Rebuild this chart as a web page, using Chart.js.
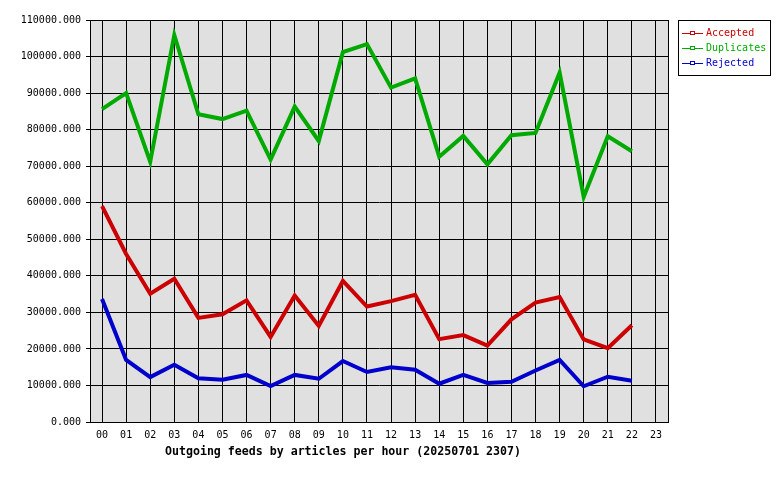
<!DOCTYPE html>
<html>
<head>
<meta charset="utf-8">
<script src="https://cdn.jsdelivr.net/npm/chart.js@4/dist/chart.umd.min.js"></script>
<style>
  html, body { margin: 0; padding: 0; background: #fff; }
  #wrap { width: 780px; height: 480px; }
</style>
</head>
<body>
<div id="wrap"><canvas id="chart" width="780" height="480"></canvas></div>
<script>
// hours 00..23, last hour has no data yet
const hours = ['00','01','02','03','04','05','06','07','08','09','10','11',
               '12','13','14','15','16','17','18','19','20','21','22','23'];

const accepted = [59100, 46000, 35100, 39200, 28500, 29500, 33300, 23300, 34600, 26300, 38600, 31600,
                  33100, 34800, 22700, 23800, 20900, 28100, 32700, 34200, 22600, 20200, 26500, null];
const duplicates = [85600, 90000, 71200, 105900, 84200, 82900, 85200, 71800, 86300, 76900, 101200, 103400,
                    91500, 94000, 72600, 78300, 70500, 78500, 79100, 95600, 61600, 78200, 74100, null];
const rejected = [33700, 17000, 12300, 15700, 12000, 11600, 12900, 9850, 12900, 11850, 16700, 13700,
                  15000, 14300, 10500, 12900, 10700, 11000, 14100, 17000, 9800, 12400, 11300, null];

const seriesNames = ['Accepted', 'Duplicates', 'Rejected'];
const seriesColors = ['#cc0000', '#00aa00', '#0000cc'];

const monoFont = '"DejaVu Sans Mono", "Liberation Mono", monospace';

// Grey plot background plus a full black frame around it.
const plotFramePlugin = {
  id: 'plotFrame',
  beforeDraw: (chart) => {
    const { ctx, chartArea: { left, top, right, bottom } } = chart;
    ctx.save();
    ctx.fillStyle = '#e0e0e0';
    ctx.fillRect(left, top, right - left, bottom - top);
    ctx.restore();
  },
  afterDraw: (chart) => {
    const { ctx, chartArea: { left, top, right, bottom } } = chart;
    ctx.save();
    ctx.strokeStyle = '#000';
    ctx.lineWidth = 1;
    ctx.strokeRect(Math.round(left) + 0.5, Math.round(top) + 0.5,
                   Math.round(right - left), Math.round(bottom - top));
    ctx.restore();
  }
};

// Boxed legend to the right of the plot, text in the series colour.
const boxLegendPlugin = {
  id: 'boxLegend',
  afterDraw: (chart) => {
    const { ctx, chartArea } = chart;
    const x = Math.round(chartArea.right) + 10;
    const y = Math.round(chartArea.top);
    const w = 92, rowH = 15;
    const sets = chart.data.datasets;
    const h = sets.length * rowH + 10;
    ctx.save();
    ctx.fillStyle = '#fff';
    ctx.fillRect(x, y, w, h);
    ctx.strokeStyle = '#000';
    ctx.lineWidth = 1;
    ctx.strokeRect(x + 0.5, y + 0.5, w, h);
    ctx.font = `10px ${monoFont}`;
    ctx.textBaseline = 'middle';
    ctx.textAlign = 'left';
    sets.forEach((ds, i) => {
      const cy = y + 13 + i * rowH + 0.5;
      ctx.strokeStyle = ds.borderColor;
      ctx.beginPath();
      ctx.moveTo(x + 4, cy);
      ctx.lineTo(x + 25, cy);
      ctx.stroke();
      ctx.fillStyle = '#fff';
      ctx.fillRect(x + 12.5, cy - 2, 4, 3);
      ctx.strokeRect(x + 12.5, cy - 2, 4, 3);
      ctx.fillStyle = ds.borderColor;
      ctx.fillText(ds.label, x + 28, cy);
    });
    ctx.restore();
  }
};

const makeSeries = (label, data, color) => ({
  label,
  data,
  borderColor: color,
  backgroundColor: color,
  borderWidth: 4,
  tension: 0,
  pointRadius: 0,
  fill: false,
  spanGaps: false,
});

new Chart(document.getElementById('chart').getContext('2d'), {
  type: 'line',
  data: {
    labels: hours,
    datasets: [
      makeSeries(seriesNames[0], accepted, seriesColors[0]),
      makeSeries(seriesNames[1], duplicates, seriesColors[1]),
      makeSeries(seriesNames[2], rejected, seriesColors[2]),
    ],
  },
  plugins: [plotFramePlugin, boxLegendPlugin],
  options: {
    responsive: false,
    animation: false,
    devicePixelRatio: 1,
    layout: { padding: { left: 18, right: 112, top: 20, bottom: 21 } },
    plugins: {
      legend: { display: false },
      tooltip: { enabled: false },
      title: {
        display: true,
        position: 'bottom',
        text: 'Outgoing feeds by articles per hour (20250701 2307)',
        color: '#000',
        font: { family: monoFont, size: 11.6, weight: 'bold', lineHeight: 1.2 },
        padding: 0,
      },
    },
    scales: {
      x: {
        offset: true,
        grid: { color: '#000', lineWidth: 1, offset: false, drawTicks: false },
        border: { color: '#000' },
        ticks: { color: '#000', font: { family: monoFont, size: 10 }, padding: 7, maxRotation: 0, autoSkip: false },
        afterFit: (scale) => { scale.height = 23; },
      },
      y: {
        min: 0,
        max: 110000,
        grid: { color: '#000', lineWidth: 1, tickLength: 4 },
        border: { color: '#000' },
        ticks: {
          stepSize: 10000,
          color: '#000',
          padding: 5,
          font: { family: monoFont, size: 10 },
          callback: (v) => Number(v).toFixed(3),
        },
        afterFit: (scale) => { scale.width = 72; },
      },
    },
  },
});
</script>
</body>
</html>
